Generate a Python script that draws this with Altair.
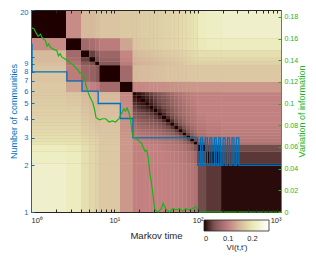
import altair as alt
import pandas as pd

# ---------------- data ----------------
# Markov-time segment edges of the VI(t,t') block matrix
seg_edges = [1, 2.63, 3.98, 5.01, 5.89, 6.61, 11.7, 16.6,
             18.6, 20.9, 23.4, 26.3, 29.5, 33.1, 37.2, 41.7, 46.8, 52.5, 58.9, 66.1,
             73.3, 81.3, 90.2, 100, 126, 191, 1000]
# upper triangle of VI between segments (row i lists j = i..n-1)
vi_upper = [
    [0, .11, .15, .15, .155, .16, .165, .165, .166, .168, .17, .17, .171, .172, .174, .176, .178, .18, .183, .186, .189, .192, .196, .21, .215, .22],
    [0, .07, .075, .085, .095, .13, .16, .162, .164, .166, .168, .17, .172, .174, .176, .178, .18, .183, .186, .189, .192, .195, .205, .21, .21],
    [0, .03, .05, .065, .105, .15, .152, .154, .156, .158, .16, .162, .164, .166, .168, .17, .173, .176, .179, .182, .185, .19, .19, .19],
    [0, .04, .06, .1, .145, .147, .149, .151, .153, .155, .157, .159, .161, .163, .165, .168, .171, .174, .177, .18, .18, .18, .18],
    [0, .05, .095, .14, .142, .144, .146, .148, .15, .152, .154, .156, .158, .16, .163, .166, .169, .172, .175, .175, .175, .175],
    [0, .07, .15, .151, .152, .153, .155, .156, .157, .158, .16, .16, .16, .161, .162, .163, .164, .165, .165, .165, .165],
    [0, .105, .106, .107, .108, .109, .11, .111, .112, .113, .114, .115, .116, .117, .118, .119, .12, .12, .12, .12],
    [0, .008, .015, .022, .03, .038, .046, .054, .062, .07, .077, .083, .088, .093, .097, .1, .1, .1, .1],
    [0, .008, .015, .023, .031, .04, .048, .056, .064, .072, .079, .085, .09, .095, .098, .1, .1, .1],
    [0, .01, .018, .027, .036, .044, .052, .06, .068, .076, .082, .088, .093, .097, .1, .1, .1],
    [0, .012, .022, .031, .04, .049, .057, .065, .073, .08, .086, .091, .095, .1, .1, .1],
    [0, .014, .025, .035, .045, .054, .062, .07, .077, .083, .089, .093, .1, .1, .1],
    [0, .016, .028, .039, .05, .059, .067, .075, .081, .087, .092, .1, .1, .1],
    [0, .018, .032, .044, .055, .064, .072, .079, .085, .09, .098, .1, .1],
    [0, .02, .035, .048, .059, .068, .076, .083, .088, .096, .1, .1],
    [0, .022, .038, .051, .062, .072, .08, .086, .094, .098, .1],
    [0, .024, .041, .055, .066, .075, .082, .09, .096, .099],
    [0, .026, .044, .058, .069, .077, .087, .094, .098],
    [0, .028, .047, .061, .071, .083, .091, .096],
    [0, .03, .05, .064, .078, .088, .093],
    [0, .032, .053, .07, .083, .09],
    [0, .034, .06, .078, .087],
    [0, .045, .07, .083],
    [0, .03, .035],
    [0, .025],
    [.005],
]

# number of communities (step function)
blue_t = [1, 1.03, 2.7, 4.1, 6.4, 11.8, 16.7, 100, 108.5, 114.5, 124, 131, 140, 148,
          158.5, 167, 179, 189, 202, 213.5, 228, 241, 258, 272.5, 291.6, 312, 1000]
blue_n = [12, 8, 7, 6, 5, 4, 3, 2, 3, 2, 3, 2, 3, 2, 3, 2, 3, 2, 3, 2, 3, 2, 3, 2, 3, 2, 2]

# variation of information
green_t = [1, 1.085, 1.155, 1.219, 1.30, 1.358, 1.489, 1.555, 1.628, 1.706, 1.864, 2.04,
           2.135, 2.236, 2.335, 2.56, 2.80, 3.06, 3.36, 3.67, 3.84, 4.01, 4.20, 4.40, 4.60,
           4.81, 5.04, 5.26, 5.51, 5.77, 6.03, 6.66, 7.22, 7.90, 8.66, 9.47, 10.36, 11.36,
           11.86, 13.0, 13.58, 14.22, 14.89, 15.55, 16.29, 17.06, 17.81, 19.53, 21.35, 22.36,
           23.35, 24.45, 25.6, 26.7, 28.0, 29.3, 30.6, 33.6, 36.7, 38.4, 40.2, 42.0, 45.9,
           50.4, 55.1, 60.3, 66.1, 72.3, 79.0, 86.7, 94.7, 103.6, 1000]
green_vi = [0.170, 0.169, 0.165, 0.162, 0.164, 0.161, 0.158, 0.153, 0.155, 0.152, 0.150, 0.149,
            0.144, 0.146, 0.143, 0.141, 0.139, 0.137, 0.134, 0.131, 0.128, 0.129, 0.126, 0.122,
            0.116, 0.111, 0.107, 0.104, 0.101, 0.095, 0.087, 0.085, 0.086, 0.086, 0.083, 0.084,
            0.083, 0.086, 0.089, 0.095, 0.093, 0.096, 0.092, 0.087, 0.074, 0.069, 0.068, 0.066,
            0.063, 0.059, 0.056, 0.057, 0.050, 0.035, 0.026, 0.014, 0.002, 0.0, 0.003, 0.008,
            0.005, 0.002, 0.0, 0.003, 0.002, 0.003, 0.001, 0.003, 0.002, 0.003, 0.005, 0.0, 0.0]

x_ticks = [1, 2, 3, 4, 5, 6, 7, 8, 9, 10, 20, 30, 40, 50, 60, 70, 80, 90,
           100, 200, 300, 400, 500, 600, 700, 800, 900, 1000]
x_labels = [1, 10, 100, 1000]
left_ticks = [1, 2, 3, 4, 5, 6, 7, 8, 9, 10, 20]
right_ticks = [0, 0.02, 0.04, 0.06, 0.08, 0.1, 0.12, 0.14, 0.16, 0.18]
legend_ticks = [0, 0.1, 0.2]

# ---------------- styles ----------------
BLUE = "#0072BD"
GREEN = "#19B419"
TXT = "#262626"
FONT = "Liberation Sans"
W, H = 250, 202
c_stops = [0, 0.0335, 0.067, 0.1005, 0.134, 0.1675, 0.201, 0.2345, 0.268]
c_colors = ["#1E0000", "#704A4A", "#9F6868", "#C38080", "#D0AA93",
            "#DDCCA5", "#E9E9B4", "#F4F4DD", "#FFFFFF"]

rows = []
n = len(seg_edges) - 1
for i in range(n):
    for j in range(n):
        a, b = min(i, j), max(i, j)
        rows.append({"x0": seg_edges[j], "x1": seg_edges[j + 1],
                     "y0": seg_edges[i], "y1": seg_edges[i + 1],
                     "vi": vi_upper[a][b - a]})
heat_df = pd.DataFrame(rows)
blue_df = pd.DataFrame({"t": blue_t, "n": blue_n})
green_df = pd.DataFrame({"t": green_t, "vi": green_vi})

xscale = alt.Scale(type="log", domain=[1, 1000], nice=False)
cscale = alt.Scale(domain=c_stops, range=c_colors, interpolate="rgb", clamp=True)
yb_scale = alt.Scale(type="log", domain=[1, 20], nice=False)
yg_scale = alt.Scale(domain=[0, 0.1863], nice=False, zero=True)

heat = alt.Chart(heat_df).mark_rect(strokeWidth=0).encode(
    x=alt.X("x0:Q", scale=xscale, axis=alt.Axis(
        orient="bottom", values=x_labels,
        labelExpr="'10' + ['\u2070','\u00b9','\u00b2','\u00b3'][round(log(datum.value)/LN10)]",
        ticks=False, tickSize=0, domainColor=TXT, labelColor=TXT, labelFontSize=7.5,
        labelPadding=4, title="Markov time", titleFontSize=9.6, titleFontWeight="normal",
        titleColor=TXT, titlePadding=7, grid=False)),
    x2="x1",
    y=alt.Y("y0:Q", scale=alt.Scale(type="log", domain=[1, 1000], nice=False, reverse=True), axis=None),
    y2="y1",
    color=alt.Color("vi:Q", type="quantitative", scale=cscale, legend=alt.Legend(
        type="gradient", orient="none", legendX=173, legendY=210, direction="horizontal",
        gradientLength=65, gradientThickness=11, values=legend_ticks, format="~g",
        labelFontSize=7.5, labelColor=TXT, labelAlign="center", labelOffset=4,
        title="VI(t,t')", titleOrient="bottom", titleFontSize=8, titleFontWeight="normal",
        titleColor=TXT, titleAnchor="middle", titlePadding=1,
        gradientStrokeColor=TXT, gradientStrokeWidth=0.8)),
)

blue = alt.Chart(blue_df).mark_line(interpolate="step-after", color=BLUE, strokeWidth=1.3).encode(
    x=alt.X("t:Q", scale=xscale, axis=alt.Axis(
        orient="bottom", offset=-H, values=x_ticks, labels=False, tickSize=3,
        tickColor=TXT, domainColor=TXT, title=None, grid=False, zindex=1)),
    y=alt.Y("n:Q", scale=yb_scale, axis=alt.Axis(
        orient="left", values=left_ticks, format="d", ticks=False, tickSize=0,
        labelColor=BLUE, domainColor=BLUE, labelFontSize=7.5, labelPadding=3,
        labelOffset={"condition": {"test": "datum.value == 20", "value": 2}, "value": 0},
        title="Number of communities", titleColor=BLUE, titleFontSize=9,
        titleFontWeight="normal", titlePadding=1, grid=False, zindex=1)),
)

green = alt.Chart(green_df).mark_line(color=GREEN, strokeWidth=1.2).encode(
    x=alt.X("t:Q", scale=xscale, axis=alt.Axis(
        orient="top", offset=-H, values=x_ticks, labels=False, tickSize=3,
        tickColor=TXT, domain=False, title=None, grid=False, zindex=1)),
    y=alt.Y("vi:Q", scale=yg_scale, axis=alt.Axis(
        orient="right", values=right_ticks, format="~g", ticks=False, tickSize=0,
        labelColor=GREEN, domainColor=GREEN, labelFontSize=7, labelPadding=3,
        title="Variation of information", titleColor=GREEN, titleFontSize=9,
        titleFontWeight="normal", titleAngle=270, titleBaseline="top", titlePadding=0,
        grid=False, zindex=1)),
)

blue_ticks = alt.Chart(blue_df).mark_line(strokeOpacity=0).encode(
    x=alt.X("t:Q", scale=xscale, axis=None),
    y=alt.Y("n:Q", scale=yb_scale, axis=alt.Axis(
        orient="right", offset=-W, values=left_ticks, labels=False, domain=False,
        tickSize=3, tickColor=BLUE, title=None, grid=False, zindex=1)),
)

green_ticks = alt.Chart(green_df).mark_line(strokeOpacity=0).encode(
    x=alt.X("t:Q", scale=xscale, axis=None),
    y=alt.Y("vi:Q", scale=yg_scale, axis=alt.Axis(
        orient="left", offset=-W, values=right_ticks, labels=False, domain=False,
        tickSize=3, tickColor=GREEN, title=None, grid=False, zindex=1)),
)

chart = alt.layer(heat, blue, green, blue_ticks, green_ticks).resolve_scale(
    y="independent"
).resolve_axis(
    x="independent", y="independent"
).properties(
    width=W, height=H,
    padding={"left": 23, "top": 2, "right": 27, "bottom": 43},
    autosize=alt.AutoSizeParams(type="none"),
).configure(font=FONT).configure_view(stroke=None, fill="#D2B49C").configure_axis(
    labelFont=FONT, titleFont=FONT
).configure_legend(labelFont=FONT, titleFont=FONT)

chart.save("out.html", embed_options={"renderer": "svg", "actions": False})
